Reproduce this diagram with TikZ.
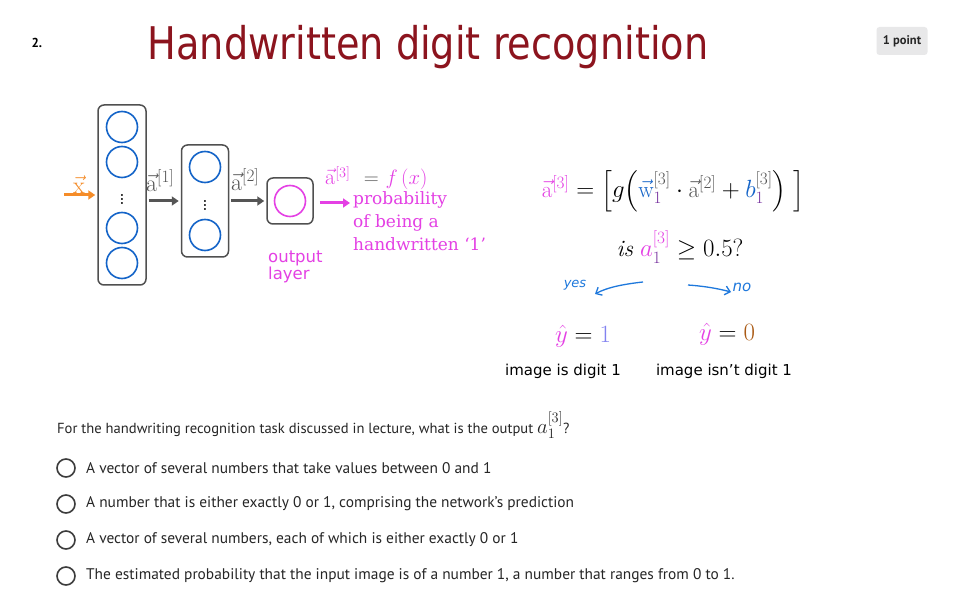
\documentclass[tikz,border=0pt]{standalone}
\usepackage{fontspec}
\usepackage{amsmath,amssymb}
\usetikzlibrary{arrows.meta}
\newfontfamily\titlefont[FakeStretch=0.85]{DejaVu Sans}
\newfontfamily\vfont{DejaVu Sans}
\newfontfamily\uifont{PT Sans}
\newfontfamily\handfont{DejaVu Sans}
\newfontfamily\probfont{DejaVu Serif}
\definecolor{pinkc}{RGB}{228,64,228}
\definecolor{titlered}{RGB}{140,20,30}
\definecolor{nblue}{RGB}{20,100,200}
\definecolor{orangec}{RGB}{245,140,40}
\definecolor{arrowgray}{RGB}{85,85,85}
\definecolor{boxgray}{RGB}{80,80,80}
\definecolor{handblue}{RGB}{30,120,220}
\definecolor{purplec}{RGB}{120,50,160}
\definecolor{lavc}{RGB}{130,130,240}
\definecolor{brownc}{RGB}{170,90,20}
\definecolor{chipgray}{RGB}{232,232,233}
\definecolor{txtgray}{RGB}{60,60,60}
\begin{document}
\begin{tikzpicture}[x=1pt,y=-1pt,
  layerbox/.style={draw=boxgray, line width=1.5pt, rounded corners=6pt, inner sep=0pt},
  neuron/.style={draw=nblue, line width=1.6pt, circle, minimum size=31pt, inner sep=0pt},
  outneuron/.style={draw=pinkc, line width=1.6pt, circle, minimum size=31pt, inner sep=0pt},
  grarrow/.style={draw=arrowgray, line width=3pt, -{Triangle[length=7pt,width=9pt]}},
  pkarrow/.style={draw=pinkc, line width=3pt, -{Triangle[length=7pt,width=9pt]}},
  orarrow/.style={draw=orangec, line width=3pt, -{Triangle[length=7pt,width=9pt]}},
  handarrow/.style={draw=handblue, line width=1.3pt, -{Straight Barb[length=5pt,width=9pt]}},
  radio/.style={draw=txtgray, line width=1.6pt, circle, minimum size=18pt, inner sep=0pt},
  opt/.style={anchor=west, font=\uifont\fontsize{15.4}{18}\selectfont, text=black!85, inner sep=0pt},
  vlabel/.style={font=\fontsize{24}{24}\selectfont, inner sep=0pt}
]
\useasboundingbox[fill=white] (0,0) rectangle (961,601);

% header
\node[font=\uifont\bfseries\fontsize{13}{15}\selectfont, anchor=west] (num) at (28,43) {2.};
\node[font=\titlefont\fontsize{45}{48}\selectfont, text=titlered] (title) at (428,47) {Handwritten digit recognition};
\node[fill=chipgray, rounded corners=3pt, minimum width=51pt, minimum height=28pt, inner sep=0pt,
      font=\uifont\bfseries\fontsize{12.5}{14}\selectfont, text=black!85] (pt) at (902,41) {1 point};

% network
\node[layerbox, minimum width=48pt, minimum height=180pt] (L1) at (122,195) {};
\node[neuron] (n11) at (122,127) {};
\node[neuron] (n12) at (122,162) {};
\node[font=\bfseries\fontsize{14}{14}\selectfont] (d1) at (122,196) {$\vdots$};
\node[neuron] (n13) at (122,228) {};
\node[neuron] (n14) at (122,263) {};

\node[layerbox, minimum width=47pt, minimum height=112pt] (L2) at (205,201) {};
\node[neuron] (n21) at (205,167) {};
\node[font=\bfseries\fontsize{14}{14}\selectfont] (d2) at (205,202) {$\vdots$};
\node[neuron] (n22) at (205,235) {};

\node[layerbox, minimum width=46pt, minimum height=46pt] (L3) at (290,201) {};
\node[outneuron] (n31) at (290,201) {};

\coordinate (xin) at (64,195);
\draw[orarrow] (xin) -- ([xshift=-2pt]L1.west);
\node[vlabel, text=orangec] (xl) at (79,185) {$\vec{\mathrm{x}}$};

\draw[grarrow] ([xshift=2pt]L1.east |- L2.west) -- ([xshift=-2pt]L2.west);
\node[vlabel, text=arrowgray, anchor=west] (a1l) at (146,181) {$\vec{\mathrm{a}}^{[1]}$};
\draw[grarrow] ([xshift=2pt]L2.east) -- ([xshift=-2pt]L3.west);
\node[vlabel, text=arrowgray, anchor=west] (a2l) at (231,180) {$\vec{\mathrm{a}}^{[2]}$};

\coordinate (pend) at (350,203);
\draw[pkarrow] ([xshift=6pt,yshift=-2pt]L3.east) -- (pend);

\node[font=\vfont\fontsize{16.5}{17}\selectfont, text=pinkc, anchor=north west, align=left, inner sep=0pt] (outl) at (268,251) {output\\layer};

\node[font=\fontsize{22}{22}\selectfont, inner sep=0pt, text=pinkc, anchor=west] (a3l) at (325,178) {$\vec{\mathrm{a}}^{[3]}\ \ \textcolor{arrowgray}{=}\ f\,(x)$};
\node[font=\probfont\fontsize{17}{23}\selectfont, text=pinkc, anchor=north west, align=left, inner sep=0pt] (prob) at (353,191) {probability\\of being a\\handwritten ‘1’};

% right equations
\node[font=\fontsize{23}{26}\selectfont, inner sep=0pt] (eq) at (673,191)
 {$\textcolor{pinkc}{\vec{\mathrm{a}}^{[3]}} = \Big[ g\Big( \textcolor{nblue}{\vec{\mathrm{w}}}_{\textcolor{purplec}{1}}^{\textcolor{arrowgray}{[3]}}\cdot \textcolor{arrowgray}{\vec{\mathrm{a}}^{[2]}} + \textcolor{nblue}{b}_{\textcolor{purplec}{1}}^{\textcolor{arrowgray}{[3]}}\Big)\ \Big]$};
\node[font=\fontsize{23.5}{26}\selectfont, inner sep=0pt] (is) at (680,247)
 {$\mathit{is}\ \textcolor{pinkc}{a}_{\textcolor{purplec}{1}}^{\textcolor{pinkc}{[3]}} \geq 0.5?$};

\node[font=\handfont\itshape\fontsize{13}{14}\selectfont, text=handblue, inner sep=0pt] (yes) at (575,285) {yes};
\node[font=\handfont\itshape\fontsize{15}{16}\selectfont, text=handblue, inner sep=0pt] (no) at (742,287) {no};
\coordinate (ys) at (643,282);
\coordinate (ye) at (595,294);
\coordinate (ns) at (688,285);
\coordinate (ne) at (731,292);
\draw[handarrow] (ys) .. controls (625,284) and (608,287) .. (ye);
\draw[handarrow] (ns) .. controls (702,286) and (716,288) .. (ne);

\node[font=\fontsize{23}{24}\selectfont, inner sep=0pt] (y1) at (583,336) {$\textcolor{pinkc}{\hat{y}} = \textcolor{lavc}{1}$};
\node[font=\fontsize{23}{24}\selectfont, inner sep=0pt] (y0) at (727,334) {$\textcolor{pinkc}{\hat{y}} = \textcolor{brownc}{0}$};
\node[font=\vfont\fontsize{15}{16}\selectfont, inner sep=0pt] (c1) at (563,371) {image is digit 1};
\node[font=\vfont\fontsize{15}{16}\selectfont, inner sep=0pt] (c0) at (724,371) {image isn’t digit 1};

% question
\node[opt, font=\uifont\fontsize{14.6}{18}\selectfont] (q) at (57,425) {For the handwriting recognition task discussed in lecture, what is the output {\fontsize{21}{22}\selectfont$a_1^{[3]}$}?};
\node[radio] (r1) at (66,468) {};
\node[opt] (o1) at (86,468) {A vector of several numbers that take values between 0 and 1};
\node[radio] (r2) at (66,504) {};
\node[opt] (o2) at (86,504) {A number that is either exactly 0 or 1, comprising the network’s prediction};
\node[radio] (r3) at (66,540) {};
\node[opt] (o3) at (86,540) {A vector of several numbers, each of which is either exactly 0 or 1};
\node[radio] (r4) at (66,576) {};
\node[opt] (o4) at (86,576) {The estimated probability that the input image is of a number 1, a number that ranges from 0 to 1.};
\end{tikzpicture}
\end{document}
